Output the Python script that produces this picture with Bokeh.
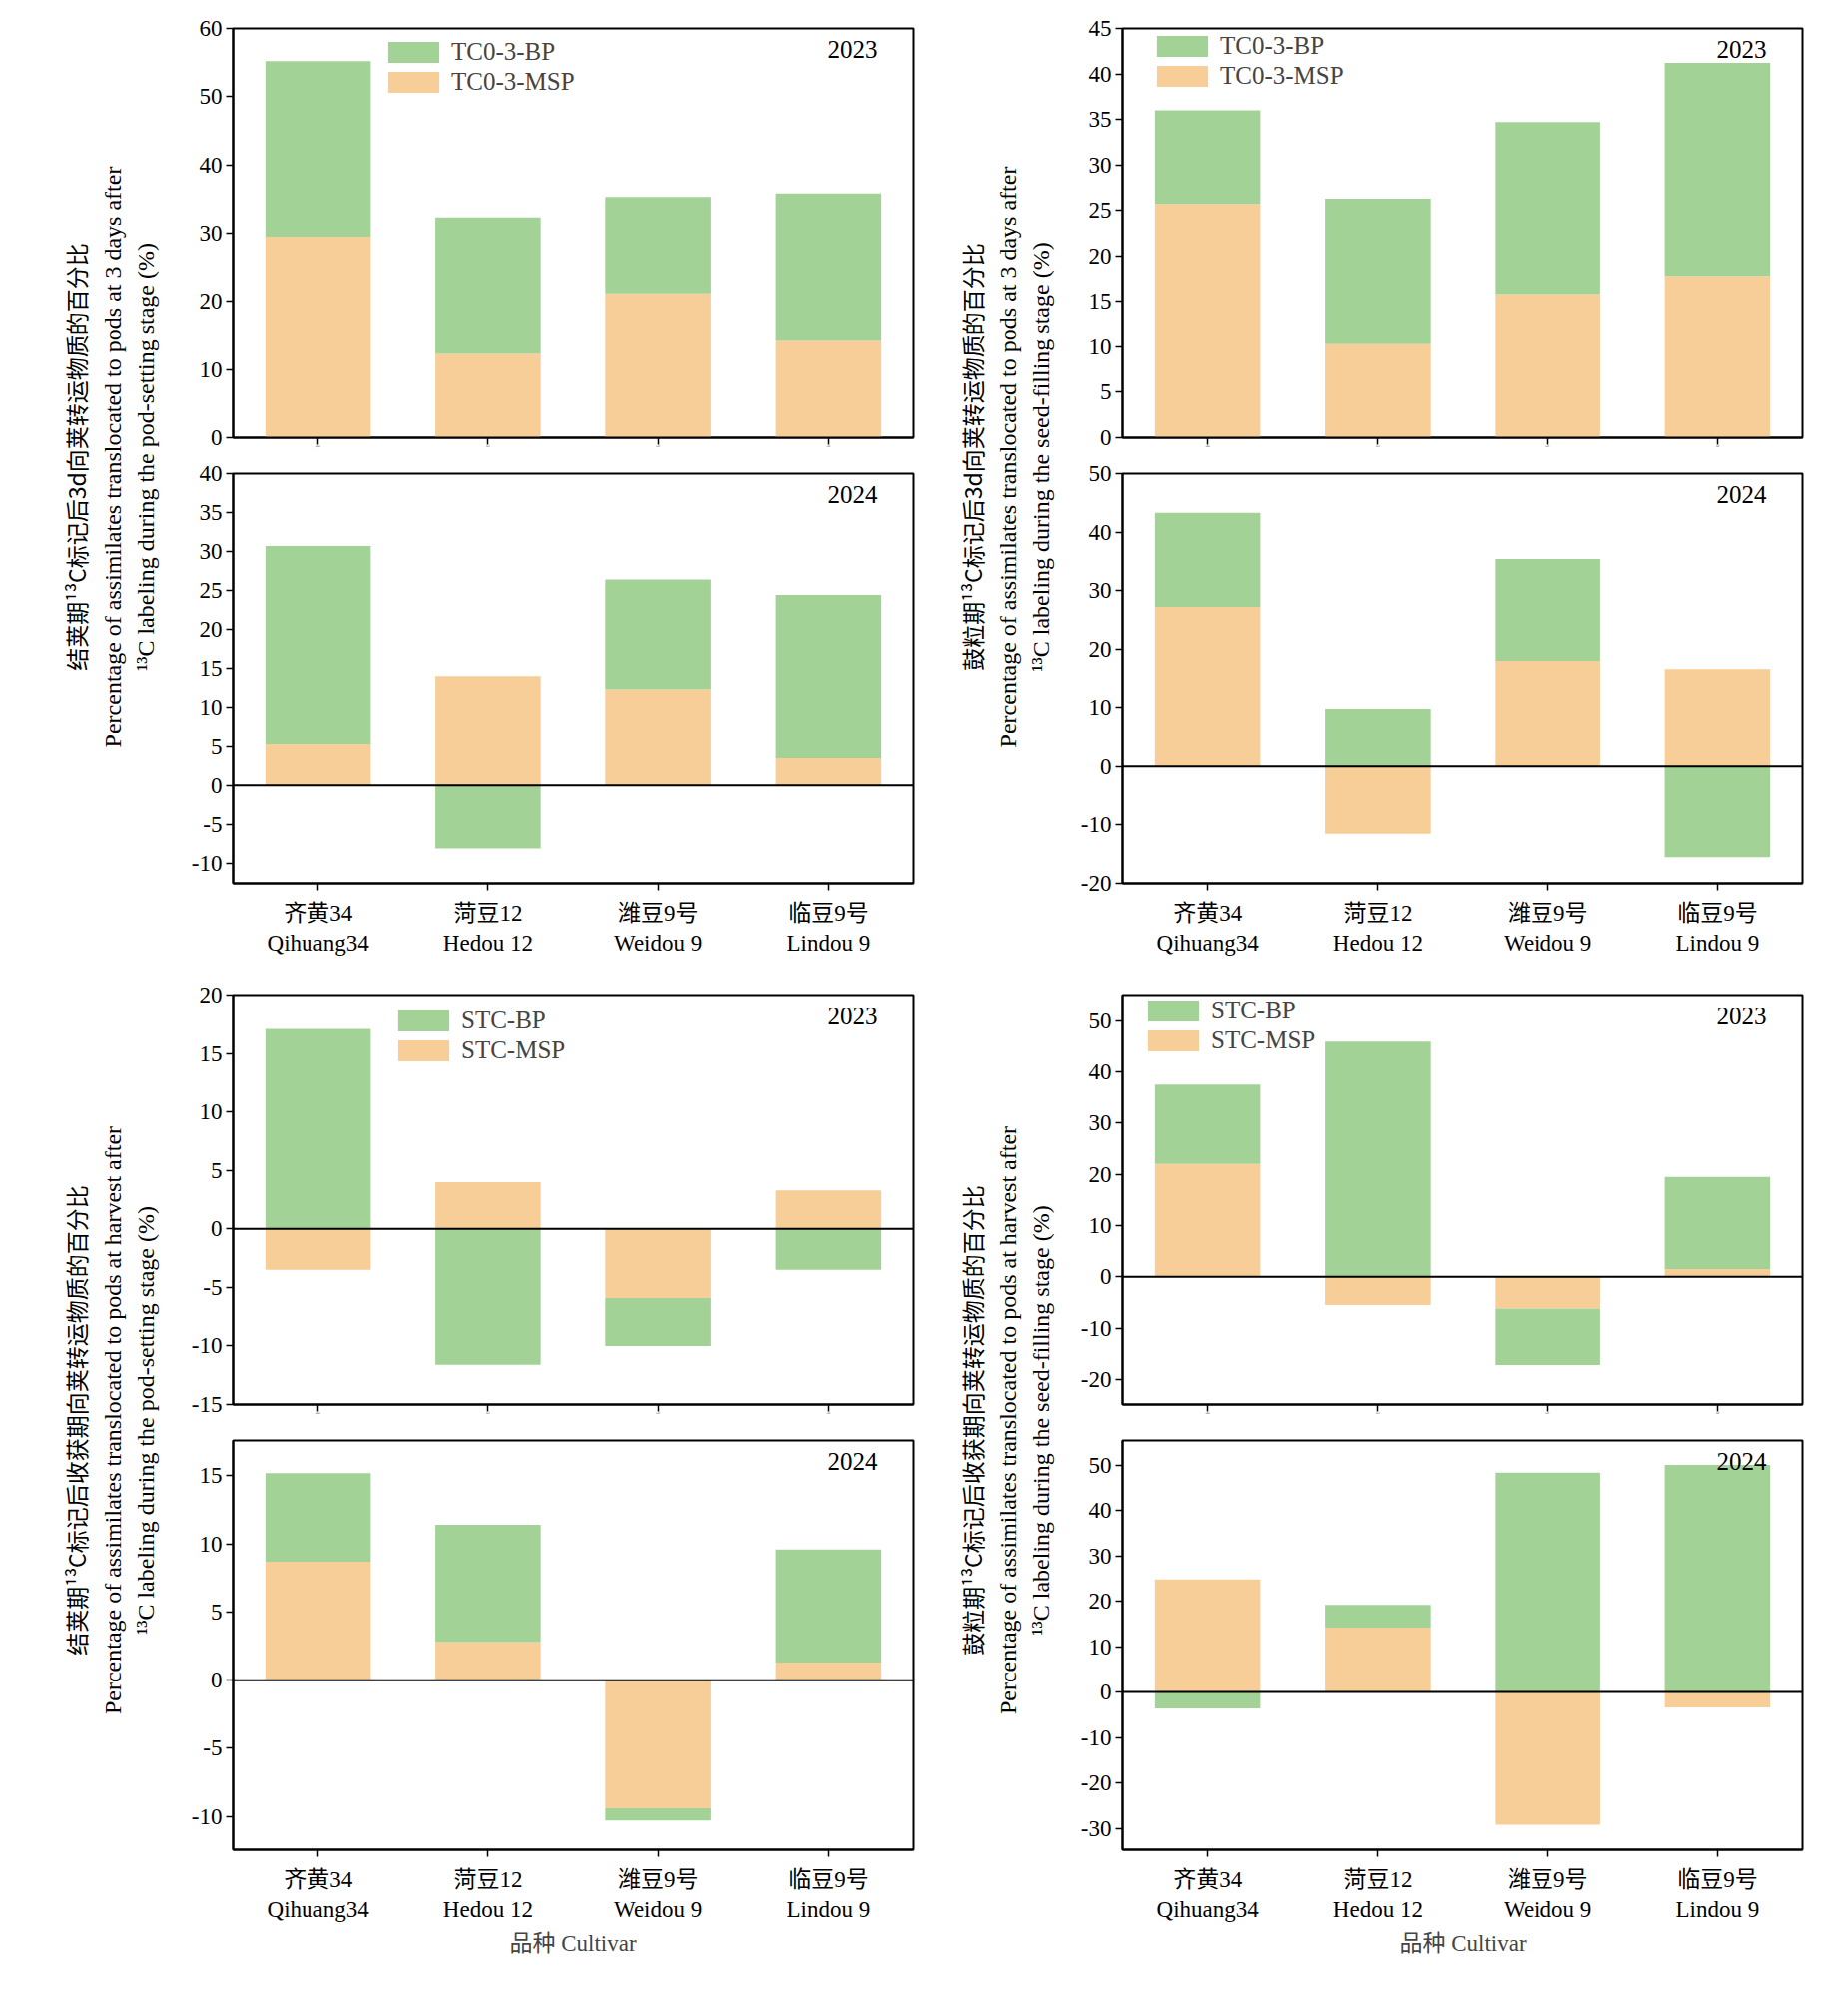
import math
from bokeh.plotting import figure
from bokeh.models import Label, Span, FactorRange, Legend, LegendItem
from bokeh.layouts import row, column
from bokeh.embed import file_html
from bokeh.resources import INLINE

cultivars = ["齐黄34\nQihuang34", "菏豆12\nHedou 12", "潍豆9号\nWeidou 9", "临豆9号\nLindou 9"]

# Quadrant 1: TC0-3, pod-setting
q1_23_msp = [29.5, 12.3, 21.2, 14.2]
q1_23_bp = [25.7, 20.0, 14.1, 21.6]
q1_24_msp = [5.3, 14.0, 12.3, 3.5]
q1_24_bp = [25.4, -8.1, 14.1, 20.9]
# Quadrant 2: TC0-3, seed-filling
q2_23_msp = [25.7, 10.3, 15.8, 17.8]
q2_23_bp = [10.3, 16.0, 18.9, 23.4]
q2_24_msp = [27.2, -11.5, 18.0, 16.6]
q2_24_bp = [16.1, 9.8, 17.4, -15.5]
# Quadrant 3: STC, pod-setting
q3_23_msp = [-3.5, 4.0, -5.9, 3.3]
q3_23_bp = [17.1, -11.6, -4.1, -3.5]
q3_24_msp = [8.7, 2.8, -9.4, 1.3]
q3_24_bp = [6.5, 8.6, -0.9, 8.3]
# Quadrant 4: STC, seed-filling
q4_23_msp = [22.0, -5.5, -6.2, 1.5]
q4_23_bp = [15.5, 45.9, -11.0, 18.0]
q4_24_msp = [24.8, 14.2, -29.2, -3.4]
q4_24_bp = [-3.6, 5.0, 48.3, 50.0]

GREEN = "#a3d297"
ORANGE = "#f7cd98"
SERIF = "Liberation Serif"
CJK = "Noto Sans CJK SC"
MIX = "Liberation Serif, Noto Sans CJK SC"
FS = "23px"
FW, FH = 681, 410


def panel(msp, bp, yr, ticks, year, legend_names=None, bottom=False, right_col=False,
          legend_off=(0, 0), top_border=28, bottom_border=18, zero=False, xlabel=None):
    p = figure(x_range=FactorRange(*cultivars, range_padding=0), y_range=yr,
               frame_width=FW, frame_height=FH, output_backend="svg", toolbar_location=None,
               min_border_left=55, min_border_right=40 if right_col else 5,
               min_border_top=top_border, min_border_bottom=bottom_border)
    p.x_range.factor_padding = 0
    msp_b = [0] * 4
    msp_t = list(msp)
    bp_b, bp_t = [], []
    for m, b in zip(msp, bp):
        if (m >= 0) == (b >= 0):
            bp_b.append(m)
            bp_t.append(m + b)
        else:
            bp_b.append(0)
            bp_t.append(b)
    r1 = p.vbar(x=cultivars, bottom=msp_b, top=msp_t, width=0.62, fill_color=ORANGE, line_color=None)
    r2 = p.vbar(x=cultivars, bottom=bp_b, top=bp_t, width=0.62, fill_color=GREEN, line_color=None)
    if zero:
        p.add_layout(Span(location=0, dimension="width", line_color="black", line_width=2))
    p.grid.visible = False
    p.outline_line_color = "black"
    p.outline_line_width = 2
    for ax in (p.xaxis[0], p.yaxis[0]):
        ax.axis_line_color = "black"
        ax.axis_line_width = 2
        ax.major_tick_line_width = 1.5
        ax.major_tick_out = 7
        ax.major_tick_in = 0
        ax.minor_tick_line_color = None
        ax.major_label_text_font = SERIF
        ax.major_label_text_font_size = FS
        ax.major_label_text_color = "black"
    p.yaxis.ticker = ticks
    p.yaxis.major_label_standoff = 4
    p.yaxis.major_label_overrides = {t: str(t) for t in ticks}
    if bottom:
        p.xaxis.major_label_text_font = MIX
        p.xaxis.major_label_text_font_size = "23px"
        p.xaxis.major_label_standoff = 10
        p.xaxis.major_label_text_line_height = 1.2
    else:
        p.xaxis.major_label_overrides = {c: "" for c in cultivars}
        p.xaxis.major_label_text_font_size = "1px"
        p.xaxis.major_label_standoff = 0
    if xlabel:
        p.xaxis.axis_label = xlabel
        p.xaxis.axis_label_text_font = MIX
        p.xaxis.axis_label_text_font_size = "23px"
        p.xaxis.axis_label_text_font_style = "normal"
        p.xaxis.axis_label_standoff = 6
    p.add_layout(Label(x=FW - 36, y=FH - 12, x_units="screen", y_units="screen", text=year,
                       text_align="right", text_baseline="top", text_font=SERIF,
                       text_font_size="25px", text_color="black"))
    if legend_names:
        lg = Legend(items=[LegendItem(label=legend_names[0], renderers=[r2]),
                           LegendItem(label=legend_names[1], renderers=[r1])],
                    location=(legend_off[0], FH - legend_off[1] - 56),
                    glyph_width=64, glyph_height=26, spacing=2, padding=0, margin=0,
                    border_line_color=None, background_fill_alpha=0,
                    label_text_font=SERIF, label_text_font_size="25px", label_standoff=6,
                    label_height=26)
        p.add_layout(lg, "center")
    return p


def labelfig(w, h, xs, yc, texts):
    f = figure(width=w, height=h, x_range=(0, 1), y_range=(0, 1), output_backend="svg",
               toolbar_location=None, min_border=0)
    f.axis.visible = False
    f.grid.visible = False
    f.outline_line_color = None
    fonts = [CJK, SERIF, SERIF]
    sizes = ["23px", "24px", "24px"]
    for x, t, fo, s in zip(xs, texts, fonts, sizes):
        f.add_layout(Label(x=x, y=yc, x_units="screen", y_units="screen", text=t, angle=math.pi / 2,
                           text_align="center", text_baseline="middle", text_font=fo,
                           text_font_size=s, text_color="black"))
    return f


TOPH = 28 + FH + 18 + 18 + FH + 92
BOTH = 20 + FH + 18 + 18 + FH + 130

a1 = panel(q1_23_msp, q1_23_bp, (0, 60), list(range(0, 61, 10)), "2023", ["TC0-3-BP", "TC0-3-MSP"], legend_off=(149, 12))
a2 = panel(q1_24_msp, q1_24_bp, (-12.6, 40), list(range(-10, 41, 5)), "2024", bottom=True, top_border=18, bottom_border=92, zero=True)
b1 = panel(q2_23_msp, q2_23_bp, (0, 45), list(range(0, 46, 5)), "2023", ["TC0-3-BP", "TC0-3-MSP"], right_col=True, legend_off=(28, 6))
b2 = panel(q2_24_msp, q2_24_bp, (-20, 50), list(range(-20, 51, 10)), "2024", bottom=True, right_col=True, top_border=18, bottom_border=92, zero=True)
c1 = panel(q3_23_msp, q3_23_bp, (-15, 20), list(range(-15, 21, 5)), "2023", ["STC-BP", "STC-MSP"], legend_off=(159, 14), zero=True, top_border=20)
c2 = panel(q3_24_msp, q3_24_bp, (-12.45, 17.6), list(range(-10, 16, 5)), "2024", bottom=True, top_border=18, bottom_border=130, zero=True, xlabel="品种 Cultivar")
d1 = panel(q4_23_msp, q4_23_bp, (-24.9, 55), list(range(-20, 51, 10)), "2023", ["STC-BP", "STC-MSP"], right_col=True, legend_off=(19, 4), zero=True, top_border=20)
d2 = panel(q4_24_msp, q4_24_bp, (-34.7, 55.4), list(range(-30, 51, 10)), "2024", bottom=True, right_col=True, top_border=18, bottom_border=130, zero=True, xlabel="品种 Cultivar")

l1 = labelfig(178, TOPH, [75, 112, 145], TOPH - 457,
              ["结荚期¹³C标记后3d向荚转运物质的百分比",
               "Percentage of assimilates translocated to pods at 3 days after",
               "¹³C labeling during the pod-setting stage (%)"])
l2 = labelfig(150, TOPH, [54, 90, 123], TOPH - 457,
              ["鼓粒期¹³C标记后3d向荚转运物质的百分比",
               "Percentage of assimilates translocated to pods at 3 days after",
               "¹³C labeling during the seed-filling stage (%)"])
l3 = labelfig(178, BOTH, [75, 112, 145], BOTH - 446,
              ["结荚期¹³C标记后收获期向荚转运物质的百分比",
               "Percentage of assimilates translocated to pods at harvest after",
               "¹³C labeling during the pod-setting stage (%)"])
l4 = labelfig(150, BOTH, [54, 90, 123], BOTH - 446,
              ["鼓粒期¹³C标记后收获期向荚转运物质的百分比",
               "Percentage of assimilates translocated to pods at harvest after",
               "¹³C labeling during the seed-filling stage (%)"])

layout = column(
    row(l1, column(a1, a2), l2, column(b1, b2)),
    row(l3, column(c1, c2), l4, column(d1, d2)),
)

open("out.html", "w").write(file_html(layout, INLINE))
